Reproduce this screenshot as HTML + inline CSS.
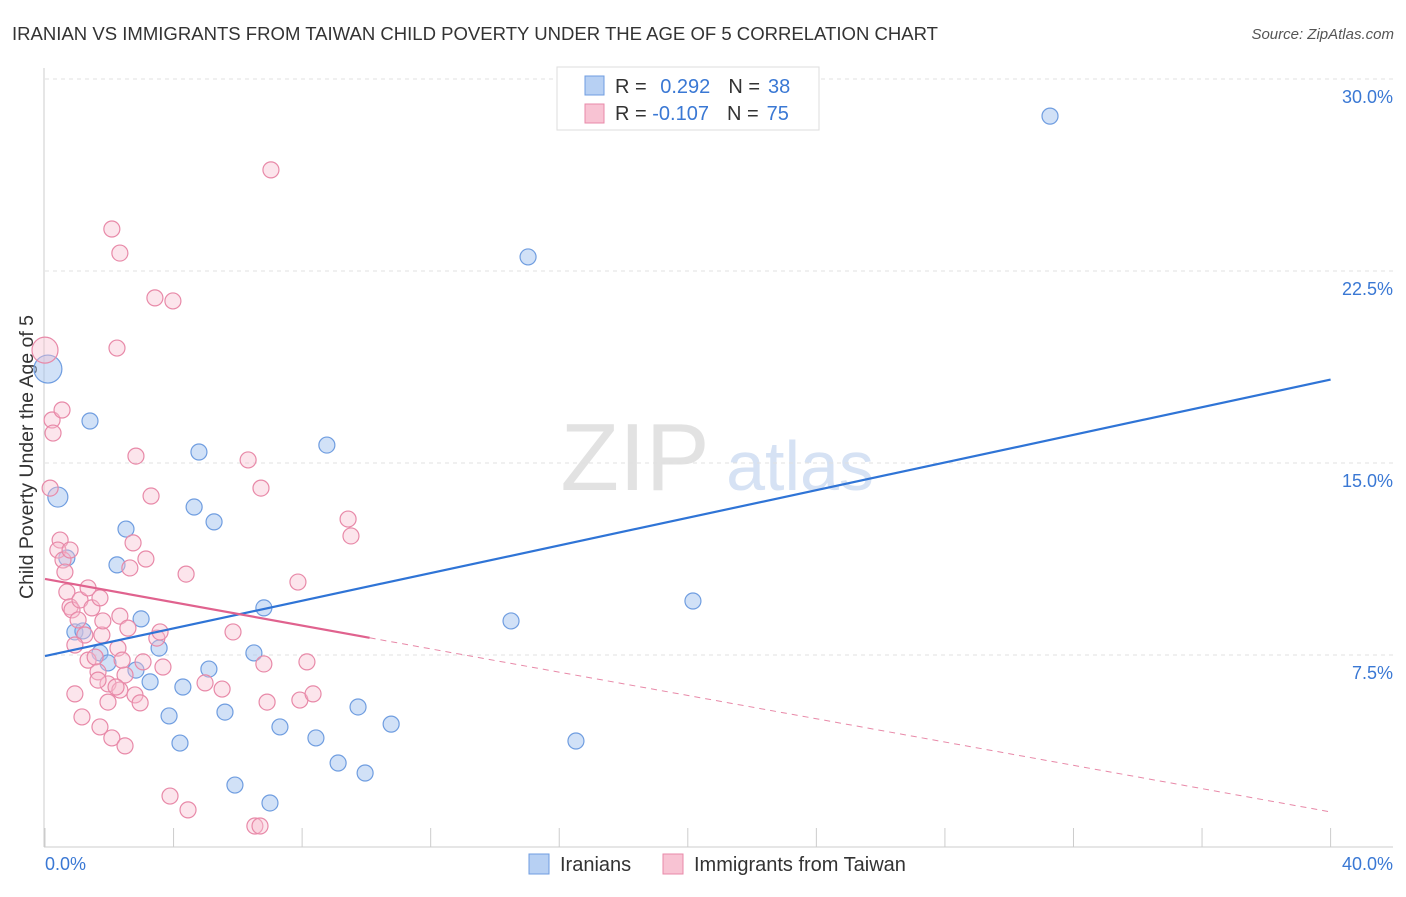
<!DOCTYPE html>
<html><head><meta charset="utf-8"><style>
body{margin:0;background:#fff;font-family:"Liberation Sans",sans-serif;}
svg text{font-family:"Liberation Sans",sans-serif;}
</style></head><body>
<svg id="c" width="1406" height="892">
<text x="12" y="40" font-size="18" fill="#333" textLength="926" lengthAdjust="spacingAndGlyphs">IRANIAN VS IMMIGRANTS FROM TAIWAN CHILD POVERTY UNDER THE AGE OF 5 CORRELATION CHART</text>
<text x="1394" y="39" font-size="15" fill="#555" font-style="italic" text-anchor="end">Source: ZipAtlas.com</text>
<text x="33" y="457" font-size="19.5" fill="#333" text-anchor="middle" transform="rotate(-90 33 457)">Child Poverty Under the Age of 5</text>
<g><text x="635" y="490" font-size="96" fill="#e2e2e2" font-family="Liberation Serif" text-anchor="middle">ZIP</text><text x="800" y="490" font-size="70" fill="#d6e2f4" text-anchor="middle">atlas</text></g>
<g id="grid"></g><g id="marks"></g>
<g>
<rect x="557" y="67" width="262" height="63" fill="#fff" stroke="#ddd"/>
<rect x="585" y="76" width="19" height="19" fill="#b7d0f3" stroke="#6f9de0"/>
<rect x="585" y="104" width="19" height="19" fill="#f8c3d3" stroke="#e889a8"/>
<text x="615" y="93" font-size="20" fill="#333">R = <tspan fill="#3a78d4" dx="8">0.292</tspan><tspan dx="18" fill="#333">N =</tspan><tspan fill="#3a78d4" dx="8">38</tspan></text>
<text x="615" y="120" font-size="20" fill="#333">R = <tspan fill="#3a78d4">-0.107</tspan><tspan dx="18" fill="#333">N =</tspan><tspan fill="#3a78d4" dx="8">75</tspan></text>
</g>
<g>
<rect x="529" y="854" width="20" height="20" fill="#b7d0f3" stroke="#6f9de0"/><text x="560" y="871" font-size="20" fill="#333">Iranians</text>
<rect x="663" y="854" width="20" height="20" fill="#f8c3d3" stroke="#e889a8"/><text x="694" y="871" font-size="20" fill="#333">Immigrants from Taiwan</text>
</g>
</svg>
<script>
const xTicks=[0,4,8,12,16,20,24,28,32,36,40];
const yTicks=[7.5,15,22.5,30];
const yTickLabels=["7.5%","15.0%","22.5%","30.0%"];
const blueX=[0.09,0.40,1.40,0.68,2.24,2.52,0.93,1.18,1.71,1.96,2.99,3.55,2.83,3.27,3.86,4.20,4.29,4.79,4.64,5.26,5.10,5.60,5.91,6.50,6.81,7.00,7.31,8.43,8.77,9.12,9.74,9.96,10.77,14.50,15.03,16.52,20.16,31.27];
const blueY=[18.67,13.67,16.64,11.29,11.02,12.42,8.40,8.44,7.58,7.19,8.91,7.77,6.91,6.45,5.12,4.06,6.25,15.43,13.28,12.70,6.95,5.27,2.42,7.58,9.34,1.72,4.69,4.26,15.70,3.28,5.47,2.89,4.80,8.83,23.05,4.14,9.61,28.55];
const pinkX=[0,0.22,0.25,0.16,0.47,0.40,0.56,0.62,0.68,0.78,0.84,1.03,1.09,1.24,0.93,1.34,1.46,1.71,1.77,1.34,1.56,1.65,0.93,1.15,1.71,1.96,1.96,2.08,2.33,2.49,2.08,2.33,2.24,3.42,3.98,2.83,3.30,2.74,3.14,2.64,2.33,2.58,2.27,2.49,3.05,2.80,2.96,3.48,3.58,3.67,4.39,4.98,5.51,5.85,6.32,6.72,6.81,6.91,7.03,7.87,7.93,8.15,8.34,9.43,9.52,3.89,4.45,6.53,6.69,2.21,2.40,1.65,0.78,0.53,1.80];
const pinkY=[19.41,16.68,16.17,14.02,11.99,11.60,11.21,10.74,9.96,9.38,9.26,8.87,9.65,8.28,7.89,10.12,9.34,9.73,8.28,7.30,7.42,6.84,5.98,5.08,4.69,5.66,6.37,4.26,6.13,3.95,24.14,23.20,19.49,21.45,21.33,15.27,13.71,11.88,11.25,10.90,9.02,8.55,7.77,6.72,7.23,5.94,5.63,8.16,8.40,7.03,10.66,6.41,6.17,8.40,15.12,14.02,7.15,5.66,26.45,10.35,5.74,7.23,5.98,12.81,12.15,1.99,1.45,0.82,0.82,6.25,7.30,6.52,11.60,17.07,8.83];
const blueTrend=[7.46,0.27];
const pinkTrend=[10.47,-0.2275];
const pinkSolidEnd=10.1;
const X=v=>45+v*32.14, Y=v=>847-v*25.6;
const NS="http://www.w3.org/2000/svg";
function mk(t,a,p){const e=document.createElementNS(NS,t);for(const k in a)e.setAttribute(k,a[k]);p.appendChild(e);return e;}
const g=document.getElementById('grid'), m=document.getElementById('marks');
yTicks.forEach((v,i)=>{
 const l=mk('line',{x1:45,x2:1393,y1:Y(v),y2:Y(v),stroke:'#e0e0e0','stroke-dasharray':'4,4'},g);
 
 
 const t=mk('text',{x:1393,y:Y(v)+24,'font-size':18,fill:'#3a78d4','text-anchor':'end'},g);t.textContent=yTickLabels[i];
 
 
});
const ax=mk('line',{x1:44,x2:44,y1:68,y2:847,stroke:'#ccc'},g);


const bx=mk('line',{x1:44,x2:1393,y1:847,y2:847,stroke:'#ccc'},g);


xTicks.forEach(v=>{const l=mk('line',{x1:X(v),x2:X(v),y1:828,y2:847,stroke:'#ccc'},g);
 
 });
[[0,"0.0%","start",45],[40,"40.0%","end",1393]].forEach(d=>{const t=mk('text',{x:d[3],y:870,'font-size':18,fill:'#3a78d4','text-anchor':d[2]},g);t.textContent=d[1];
 
 });
blueX.forEach((x,i)=>{const c=mk('circle',{cx:X(x),cy:Y(blueY[i]),r:i==0?14:(i==1?10:8),fill:'rgba(164,196,240,0.5)',stroke:'#6f9de0','stroke-width':1.2},m);
 
 });
pinkX.forEach((x,i)=>{const c=mk('circle',{cx:X(x),cy:Y(pinkY[i]),r:i==0?13:8,fill:'rgba(248,190,208,0.4)',stroke:'#e889a8','stroke-width':1.2},m);
 
 });
const bl=mk('line',{x1:X(0),y1:Y(blueTrend[0]),x2:X(40),y2:Y(blueTrend[0]+blueTrend[1]*40),stroke:'#2f74d6','stroke-width':2.2},m);


const pl=mk('line',{x1:X(0),y1:Y(pinkTrend[0]),x2:X(pinkSolidEnd),y2:Y(pinkTrend[0]+pinkTrend[1]*pinkSolidEnd),stroke:'#e0628e','stroke-width':2.2},m);


const pd=mk('line',{x1:X(pinkSolidEnd),y1:Y(pinkTrend[0]+pinkTrend[1]*pinkSolidEnd),x2:X(40),y2:Y(pinkTrend[0]+pinkTrend[1]*40),stroke:'#e889a8','stroke-width':1,'stroke-dasharray':'6,5'},m);


</script>
</body></html>
